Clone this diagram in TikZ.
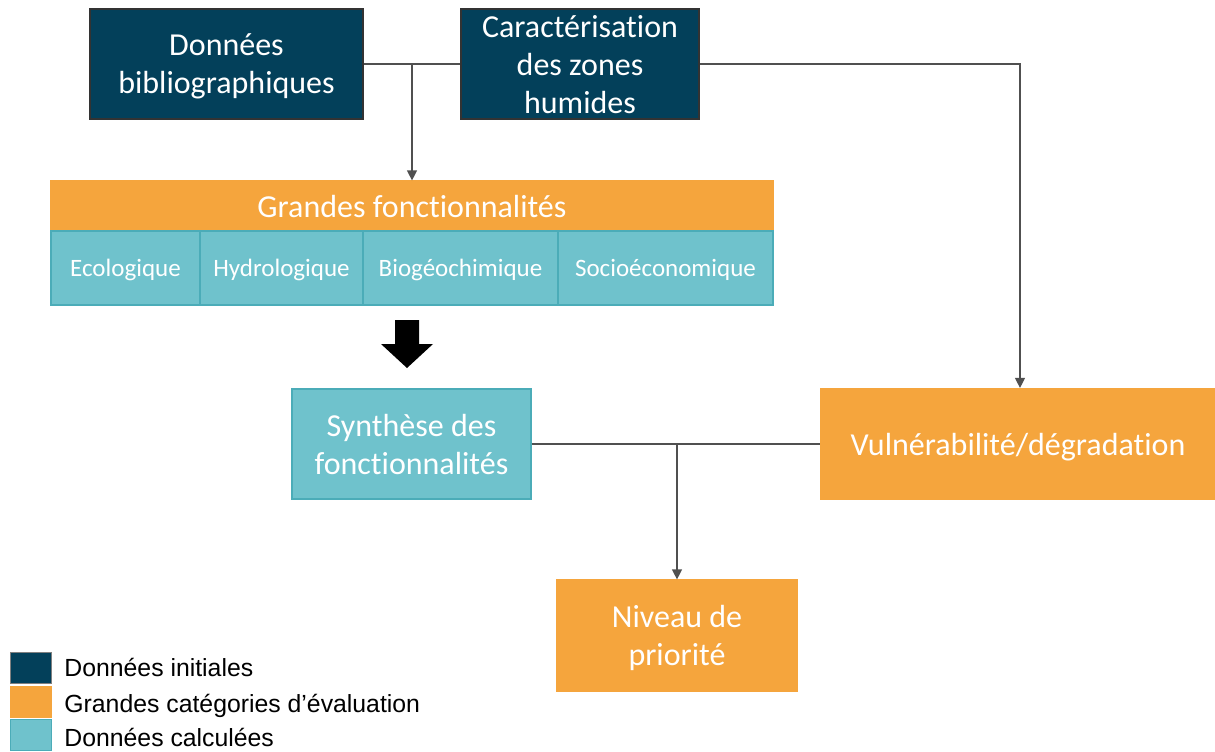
\documentclass[tikz,border=0pt]{standalone}
\usepackage{fontspec}
\setmainfont{Carlito}[RawFeature=-liga]
\newfontfamily\legendfont{Liberation Sans}
\usepackage{tikz}
\usetikzlibrary{arrows.meta}
\definecolor{ZHDark}{RGB}{3,64,90}
\definecolor{ZHOrange}{RGB}{245,165,61}
\definecolor{ZHTeal}{RGB}{111,194,204}
\definecolor{ZHTealLine}{RGB}{75,172,184}
\definecolor{ZHLine}{RGB}{80,80,80}

\begin{document}
\begin{tikzpicture}[x=0.5pt,y=-0.5pt,box/.style n args={4}{fill=#1,draw=#2,minimum width=#3*0.5pt,minimum height=#4*0.5pt,inner sep=0pt,line width=0.6pt,text=white,text depth=0pt,align=center,font=\fontsize{16}{19}\selectfont},cell/.style={box={ZHTeal}{ZHTealLine}{#1}{74},font=\fontsize{12.5}{15}\selectfont},conn/.style={draw=ZHLine,line width=0.6pt},arr/.style={conn,-{Triangle[length=5pt,width=5pt]}}]
\useasboundingbox (0,0) rectangle (1215,751);
\node[box={ZHDark}{black!80}{273}{110}] (biblio) at (226.5,64) {Données\\bibliographiques};
\node[box={ZHDark}{black!80}{238}{110}] (carac) at (580,64) {Caractérisation\\des zones\\humides};
\node[box={ZHOrange}{ZHOrange}{722}{50}] (grandes) at (412,206) {Grandes fonctionnalités};
\foreach \x/\w/\n/\t in %
{51/149/eco/Ecologique,200/163/hydro/Hydrologique,363/195/bio/Biogéochimique,558/215/socio/Socioéconomique} {
   \node[cell={\w}] (\n) at (\x+\w/2,268) {\t};
}
\fill[black] (395,320) -- (419,320) -- (419,344) -- (433,344) -- (407,368) -- (381,344) -- (395,344) -- cycle;
\node[box={ZHTeal}{ZHTealLine}{239}{110}] (synth) at (411.5,444) {Synthèse des\\fonctionnalités};
\node[box={ZHOrange}{ZHOrange}{394}{111}] (vuln) at (1018,444) {Vulnérabilité/dégradation};
\node[box={ZHOrange}{ZHOrange}{240}{111}] (niveau) at (677,635.5) {Niveau de\\priorité};
\draw[conn] (biblio.east) -- (carac.west);
\draw[arr] (grandes.north |- biblio.east) -- (grandes.north);
\draw[arr] (carac.east) -| ([xshift=1pt]vuln.north);
\draw[conn] (synth.east) -- (vuln.west);
\draw[arr] (niveau.north |- synth.east) -- (niveau.north);
\foreach \y/\b/\c/\e/\t in %
{668/676/ZHDark/gray/Données initiales,702/712.5/ZHOrange/ZHOrange/Grandes catégories d’évaluation,735/746.5/ZHTeal/ZHTealLine/Données calculées} {
   \node[box={\c}{\e}{41}{31}] (key\y) at (31,\y) {};
   \node[anchor=base west,inner sep=0pt,font=\legendfont\fontsize{12.4}{15}\selectfont] (lbl\y) at (64,\b) {\t};
}
\end{tikzpicture}
\end{document}
